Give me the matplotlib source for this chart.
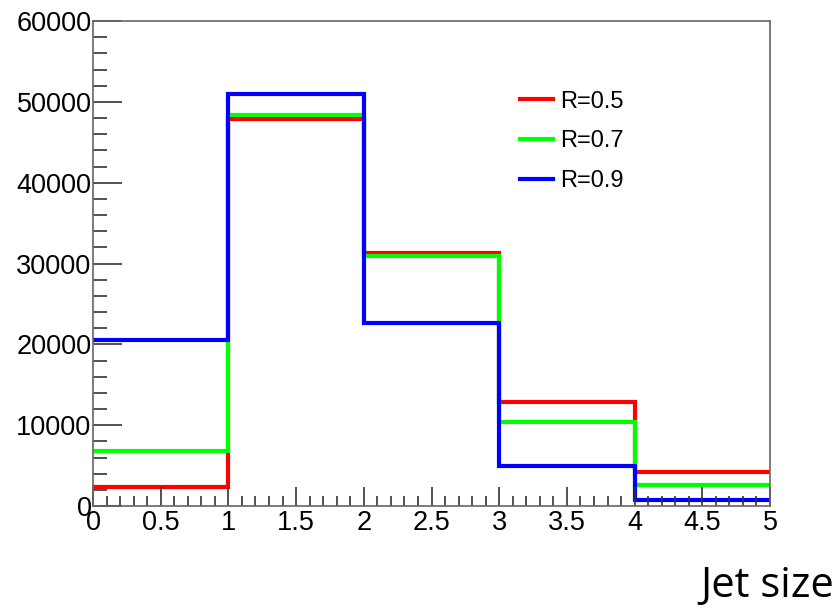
import matplotlib
matplotlib.use("Agg")
import matplotlib.pyplot as plt
from matplotlib.ticker import MultipleLocator

# bin edges (jet size) and counts per jet radius
edges = [0, 1, 2, 3, 4, 5]
r05 = [2300, 47900, 31300, 12900, 4250]
r07 = [6800, 48400, 30900, 10400, 2550]
r09 = [20500, 51000, 22600, 4900, 700]
labels = ["R=0.5", "R=0.7", "R=0.9"]
colors = ["#ff0000", "#00ff00", "#0000ff"]

plt.rcParams["font.family"] = ["Liberation Sans", "DejaVu Sans"]

fig = plt.figure(figsize=(8.38, 6.09), dpi=100)
ax = fig.add_axes([93 / 838, 1 - 506 / 609, 677 / 838, 485 / 609])

for vals, lab, col in zip([r05, r07, r09], labels, colors):
    ax.stairs(vals, edges, baseline=None, color=col, lw=3.0, label=lab)

ax.set_xlim(0, 5)
ax.set_ylim(0, 60000)
ax.xaxis.set_major_locator(MultipleLocator(0.5))
ax.xaxis.set_minor_locator(MultipleLocator(0.1))
ax.yaxis.set_major_locator(MultipleLocator(10000))
ax.yaxis.set_minor_locator(MultipleLocator(2000))
ax.set_xticklabels([f"{v:g}" for v in ax.get_xticks()])
ax.tick_params(axis="both", which="both", direction="in", colors="#333333",
               labelcolor="black", labelsize=19.5, width=1.2)
ax.tick_params(axis="x", which="major", length=14, pad=3)
ax.tick_params(axis="x", which="minor", length=7)
ax.tick_params(axis="y", which="major", length=21, pad=1)
ax.tick_params(axis="y", which="minor", length=10)
for s in ax.spines.values():
    s.set_color("#666666")
    s.set_linewidth(1.2)

ax.legend(loc="upper left", bbox_to_anchor=(0.60, 0.90), frameon=False,
          fontsize=17, handlelength=1.36, handletextpad=0.34, labelspacing=0.75)

fig.text(0.995, 0.003, "Jet size", ha="right", va="bottom",
         fontsize=30, family=["Open Sans", "DejaVu Sans"])

fig.savefig("out.png", dpi=100)
